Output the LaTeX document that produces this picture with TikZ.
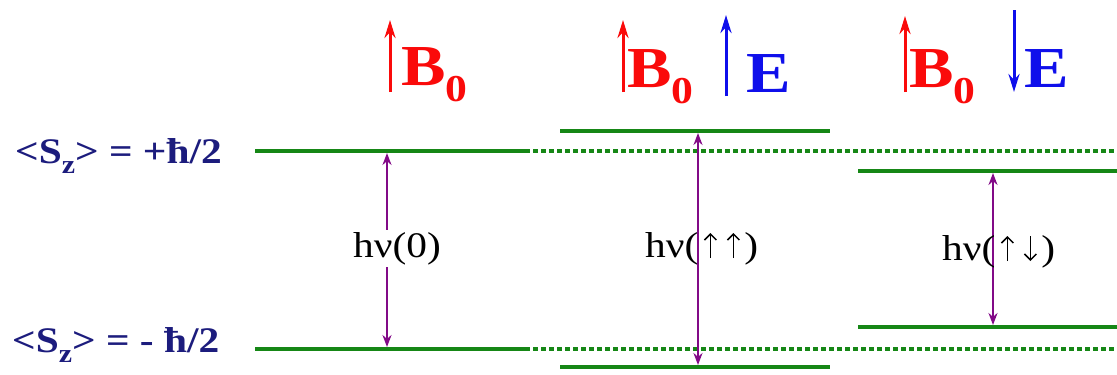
\documentclass[tikz,border=0pt]{standalone}
\usepackage{fontspec}
\setmainfont{Liberation Serif}[FakeStretch=1.15]
\usetikzlibrary{arrows.meta}
\definecolor{lvgreen}{RGB}{22,135,22}
\definecolor{navy}{RGB}{28,28,125}
\definecolor{vio}{RGB}{130,10,135}
\definecolor{fred}{RGB}{250,10,10}
\definecolor{fblue}{RGB}{15,15,235}
\newcommand{\bsub}[1]{\raisebox{-0.28em}{\fontsize{38}{38}\selectfont #1}}
\newcommand{\ssub}[1]{\raisebox{-0.3em}{\fontsize{26}{26}\selectfont #1}}
\newcommand{\tup}{\hspace{5pt}\tikz[baseline=0pt,x=1pt,y=1pt]{\path (-7,0) (7,0);\draw[line width=1.5pt,-{Straight Barb[length=6pt,width=12pt]}] (0,-1) -- (0,24);}\hspace{4pt}}
\newcommand{\tdn}{\hspace{5pt}\tikz[baseline=0pt,x=1pt,y=1pt]{\path (-7,0) (7,0);\draw[line width=1.5pt,-{Straight Barb[length=6pt,width=12pt]}] (0,24) -- (0,-1);}\hspace{4pt}}
\begin{document}
\begin{tikzpicture}[x=1pt,y=-1pt,
  level/.style={draw=lvgreen, line width=3.8pt},
  ghost/.style={draw=lvgreen, line width=4pt, dash pattern=on 5pt off 3pt},
  trans/.style={draw=vio, line width=2.4pt, {Stealth[length=12pt,width=9pt]}-{Stealth[length=12pt,width=9pt]}},
  fieldB/.style={draw=fred, line width=3pt, -{Stealth[length=18pt,width=11pt]}},
  fieldE/.style={draw=fblue, line width=3pt, -{Stealth[length=18pt,width=11pt]}},
  blbl/.style={anchor=base west, inner sep=0pt, text=fred, font=\fontsize{58}{58}\selectfont\bfseries},
  elbl/.style={anchor=base west, inner sep=0pt, text=fblue, font=\fontsize{58}{58}\selectfont\bfseries},
  slbl/.style={anchor=base west, inner sep=0pt, text=navy, font=\fontsize{36}{36}\selectfont\bfseries},
  hlbl/.style={anchor=base west, inner sep=2pt, text=black, font=\fontsize{36}{36}\selectfont}
]
\useasboundingbox (0,0) rectangle (1117,375);

% level coordinates
\coordinate (u0a) at (255,151);
\coordinate (u0b) at (525,151);
\coordinate (u0e) at (1117,151);
\coordinate (l0a) at (255,349);
\coordinate (l0b) at (525,349);
\coordinate (l0e) at (1117,349);
\coordinate (u1a) at (560,131);
\coordinate (u1b) at (830,131);
\coordinate (l1a) at (560,367);
\coordinate (l1b) at (830,367);
\coordinate (u2a) at (858,171);
\coordinate (u2b) at (1117,171);
\coordinate (l2a) at (858,327);
\coordinate (l2b) at (1117,327);

% levels
\draw[level] (u0a) -- (u0b);
\draw[level] (l0a) -- (l0b);
\draw[ghost] (u0b) -- (u0e);
\draw[ghost] (l0b) -- (l0e);
\draw[level] (u1a) -- (u1b);
\draw[level] (l1a) -- (l1b);
\draw[level] (u2a) -- (u2b);
\draw[level] (l2a) -- (l2b);

% transition endpoints
\coordinate (t0u) at (387,153);
\coordinate (t0l) at (387,347);
\coordinate (t1u) at (698,133);
\coordinate (t1l) at (698,365);
\coordinate (t2u) at (993,173);
\coordinate (t2l) at (993,325);

\draw[trans] (t0u) -- (t0l);
\draw[trans] (t1u) -- (t1l);
\draw[trans] (t2u) -- (t2l);

\node[hlbl, fill=white, inner xsep=0pt] (h0) at (353,257) {hν(0)};
\node[hlbl, inner sep=0pt] (h1) at (645,257) {hν(\tup\tup)};
\node[hlbl, inner sep=0pt] (h2) at (942,260) {hν(\tup\tdn)};

% left labels
\node[slbl] (sp) at (15,163) {<S\ssub{z}> = +ħ/2};
\node[slbl] (sm) at (12,352) {<S\ssub{z}> = - ħ/2};

% field arrows
\coordinate (b0s) at (390,92);
\coordinate (b0e) at (390,20);
\coordinate (b1s) at (623,92);
\coordinate (b1e) at (623,20);
\coordinate (e1s) at (726,96);
\coordinate (e1e) at (726,15);
\coordinate (b2s) at (905,92);
\coordinate (b2e) at (905,16);
\coordinate (e2s) at (1014,10);
\coordinate (e2e) at (1014,92);

\draw[fieldB] (b0s) -- (b0e);
\draw[fieldB] (b1s) -- (b1e);
\draw[fieldE] (e1s) -- (e1e);
\draw[fieldB] (b2s) -- (b2e);
\draw[fieldE] (e2s) -- (e2e);

\node[blbl] (B0) at (401,85) {B\bsub{0}};
\node[blbl] (B1) at (627,87) {B\bsub{0}};
\node[elbl] (E1) at (746,92) {E};
\node[blbl] (B2) at (909,87) {B\bsub{0}};
\node[elbl] (E2) at (1024,87) {E};
\end{tikzpicture}
\end{document}
